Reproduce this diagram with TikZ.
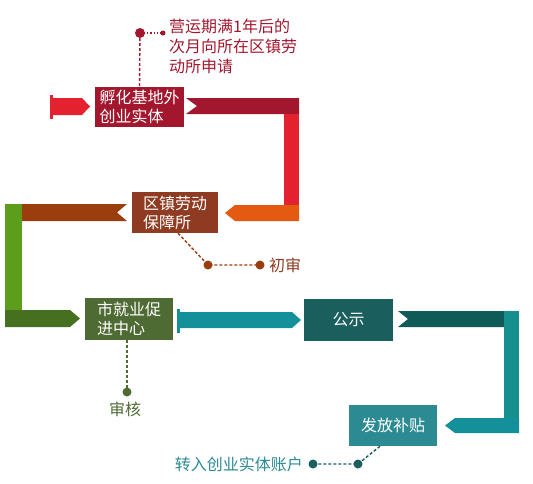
\documentclass[tikz,border=0pt]{standalone}
\usepackage{fontspec}
\setmainfont{Noto Sans CJK SC}
\usepackage{xcolor}
\usetikzlibrary{calc}

\definecolor{hongdunkel}{HTML}{A3172E}
\definecolor{hong}{HTML}{E4222F}
\definecolor{orange}{HTML}{E35A10}
\definecolor{braun}{HTML}{8E3B22}
\definecolor{braunband}{HTML}{9A3D0F}
\definecolor{gruenhell}{HTML}{5C9E1C}
\definecolor{gruen}{HTML}{4E6B33}
\definecolor{gruenband}{HTML}{46701F}
\definecolor{tuerkis}{HTML}{14909A}
\definecolor{tuerkisdunkel}{HTML}{1B5E5E}
\definecolor{tuerkisband}{HTML}{0F5B58}
\definecolor{tuerkismittel}{HTML}{15908F}
\definecolor{tuerkisbox}{HTML}{2B8A92}

\begin{document}
\begin{tikzpicture}[x=1pt,y=-1pt,
  kasten/.style={minimum width=88pt,minimum height=41pt,inner sep=3pt,align=left,text=white,font=\fontsize{16}{19}\selectfont},
  hinweis/.style={font=\fontsize{16}{20}\selectfont,inner sep=1pt},
  strich/.style={line width=1.4pt,dash pattern=on 3pt off 2pt}]
  \useasboundingbox (0,0) rectangle (533,483);
  % --- Baender ---
  \fill[hong] (50,95) rectangle (52.5,119);
  \fill[hong] (52,98) -- (82,98) -- (90,106.5) -- (82,115) -- (52,115) -- cycle;
  \fill[hongdunkel] (186,98) -- (299,98) -- (299,114) -- (186,114) -- (197,106) -- cycle;
  \fill[hong] (284,114) rectangle (299,205);
  \fill[orange] (299,205) -- (299,221) -- (235,221) -- (225,213) -- (235,205) -- cycle;
  \fill[braunband] (22,204) -- (127,204) -- (117,212.5) -- (127,221) -- (22,221) -- cycle;
  \fill[gruenhell] (5,204) rectangle (22,310);
  \fill[gruenband] (5,310) -- (70,310) -- (80,318.5) -- (70,327) -- (5,327) -- cycle;
  \fill[tuerkis] (177,309) rectangle (180,333);
  \fill[tuerkis] (180,312) -- (292,312) -- (301,320) -- (292,328) -- (180,328) -- cycle;
  \fill[tuerkisband] (398,311) -- (504,311) -- (504,327) -- (398,327) -- (408,319) -- cycle;
  \fill[tuerkismittel] (504,311) rectangle (519,418);
  \fill[tuerkis] (519,418) -- (519,433) -- (455,433) -- (445,425.5) -- (455,418) -- cycle;
  % --- Stationen ---
  \node[kasten,fill=hongdunkel,minimum width=89pt,minimum height=40pt] (fuhua) at (139.5,107) {孵化基地外\\创业实体};
  \node[kasten,fill=braun,minimum width=86pt] (quzhen) at (175,212.5) {区镇劳动\\保障所};
  \node[kasten,fill=gruen,minimum height=42pt] (shijiuye) at (129,319) {市就业促\\进中心};
  \node[kasten,fill=tuerkisdunkel,minimum width=89pt,minimum height=42pt] (gongshi) at (348.5,320) {公示};
  \node[kasten,fill=tuerkisbox] (fafang) at (393,425.5) {发放补贴};
  % --- Hinweise ---
  \coordinate (p1) at (140,33);
  \coordinate (p2) at (163,33);
  \draw[hongdunkel,strich] (p1) -- (fuhua.north);
  \draw[hongdunkel,line width=1.4pt,dotted] (p1) -- (p2);
  \fill[hongdunkel] (p1) circle (5pt);
  \fill[hongdunkel] (p2) circle (2.5pt);
  \node[hinweis,hongdunkel,anchor=west,align=left] (antrag) at (168,46) {营运期满1年后的\\次月向所在区镇劳\\动所申请};

  \coordinate (q1) at (208,265);
  \coordinate (q2) at (260,265);
  \draw[braunband,strich] ($(quzhen.south)+(3,0)$) -- (q1) -- (q2);
  \fill[braunband] (q1) circle (4.5pt);
  \fill[braunband] (q2) circle (4.5pt);
  \node[hinweis,braun,anchor=west] (chushen) at (268,265) {初审};

  \coordinate (r1) at (127,392);
  \draw[gruen,strich] ($(shijiuye.south)+(-2,0)$) -- (r1);
  \fill[gruen] (r1) circle (4.5pt);
  \node[hinweis,gruen] (shenhe) at (125,409) {审核};

  \coordinate (s1) at (358,464);
  \coordinate (s2) at (313,464);
  \draw[tuerkisdunkel,strich] ($(fafang.south)+(-13,0)$) -- (s1) -- (s2);
  \fill[tuerkisdunkel] (s1) circle (4.5pt);
  \fill[tuerkisdunkel] (s2) circle (4.5pt);
  \node[hinweis,tuerkisbox,anchor=east] (zhuanru) at (304,464) {转入创业实体账户};
\end{tikzpicture}
\end{document}
